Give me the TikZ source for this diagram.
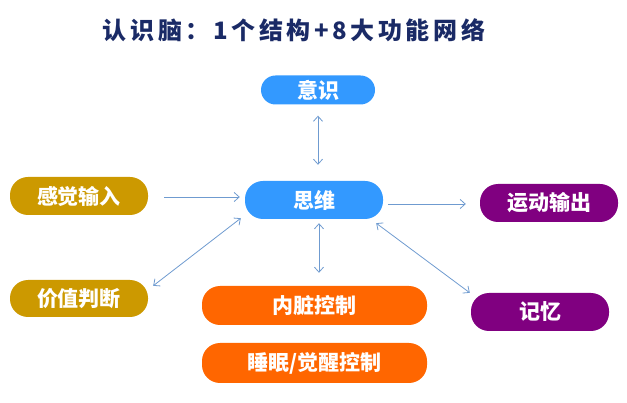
\documentclass[tikz,border=0pt]{standalone}
\usepackage{fontspec}
\setmainfont{Noto Sans CJK SC}
\newfontfamily\cjkt{Noto Sans CJK SC}[LetterSpace=15]
\usetikzlibrary{arrows.meta,calc}
\definecolor{cblue}{HTML}{3399FF}
\definecolor{cgold}{HTML}{CC9900}
\definecolor{cpurple}{HTML}{800080}
\definecolor{corange}{HTML}{FF6600}
\definecolor{carrow}{HTML}{6F9BD0}
\definecolor{ctitle}{HTML}{1A2A66}
\tikzset{
  pill/.style={rectangle, rounded corners=#1, inner sep=0pt, text=white,
    font=\fontsize{21}{24}\selectfont\bfseries},
  pill/.default=18pt,
  link/.style={draw=carrow, line width=0.8pt, -{Straight Barb[length=5pt,width=9pt]}},
  blink/.style={draw=carrow, line width=0.8pt, {Straight Barb[length=5pt,width=9pt]}-{Straight Barb[length=5pt,width=9pt]}},
}
\begin{document}
\begin{tikzpicture}[x=1pt,y=-1pt]
\useasboundingbox (0,0) rectangle (627,403);
% title
\node[text=ctitle, font=\cjkt\fontsize{24}{28}\selectfont\bfseries] (title) at (294,30) {认识脑：1个结构+8大功能网络};
% nodes
\node[pill=14.5pt, fill=cblue, minimum width=114pt, minimum height=29pt] (yishi) at (318,90) {意识};
\node[pill, fill=cblue, minimum width=138pt, minimum height=38pt] (siwei) at (314,200) {思维};
\node[pill, fill=cgold, minimum width=138pt, minimum height=38pt] (ganjue) at (79,196) {感觉输入};
\node[pill, fill=cgold, minimum width=138pt, minimum height=37pt] (jiazhi) at (79,298.5) {价值判断};
\node[pill, fill=cpurple, minimum width=138pt, minimum height=38pt] (yundong) at (549,203) {运动输出};
\node[pill, fill=cpurple, minimum width=138pt, minimum height=38pt] (jiyi) at (540,312) {记忆};
\node[pill, fill=corange, minimum width=225pt, minimum height=39pt] (neizang) at (314.5,305.5) {内脏控制};
\node[pill, fill=corange, minimum width=225pt, minimum height=40pt] (shuimian) at (314.5,363) {睡眠/觉醒控制};
% connectors
\draw[blink] ($(yishi.south)+(0,11)$) -- ($(siwei.north)+(4,-16)$);
\draw[link] ($(ganjue.east)+(16,1)$) -- ($(siwei.west)+(-5,-3)$);
\draw[blink] ($(jiazhi.north east)+(5,6)$) -- ($(siwei.south west)+(-4,-1)$);
\draw[link] ($(siwei.east)+(5,4)$) -- ($(yundong.west)+(-14,1)$);
\draw[blink] ($(siwei.south east)+(-7,4)$) -- ($(jiyi.north west)+(-1,0)$);
\draw[blink] ($(siwei.south)+(5,4)$) -- ($(neizang.north)+(4.5,-13)$);
\end{tikzpicture}
\end{document}
